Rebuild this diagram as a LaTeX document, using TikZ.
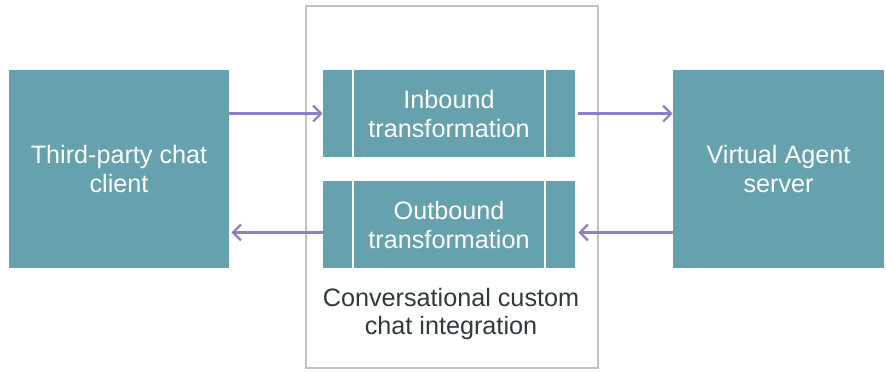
\documentclass[tikz,border=0pt]{standalone}
\usepackage{fontspec}
\setmainfont{Liberation Sans}
\usetikzlibrary{positioning, arrows.meta, calc}
\definecolor{colorteal}{HTML}{66A1AE}
\definecolor{colorarrow}{HTML}{8B7FC6}
\definecolor{colorframe}{HTML}{C2C2C2}
\definecolor{colortext}{HTML}{2E3A3C}

\begin{document}
\begin{tikzpicture}[
    x=0.5pt, y=-0.5pt,
    % Solid teal boxes for the two end points
    endbox/.style={
        rectangle,
        fill=colorteal,
        align=center,
        text=white,
        minimum width=110pt,
        minimum height=99pt,
        inner sep=0pt,
        font=\fontsize{12.6}{14.5}\selectfont
    },
    % Transformation boxes with white side bars
    stagebox/.style={
        endbox,
        minimum width=126pt,
        minimum height=43.5pt,
        path picture={
            \draw[white, line width=0.7pt]
                ([xshift=15pt]path picture bounding box.south west) --
                ([xshift=15pt]path picture bounding box.north west);
            \draw[white, line width=0.7pt]
                ([xshift=-15pt]path picture bounding box.south east) --
                ([xshift=-15pt]path picture bounding box.north east);
        }
    },
    % Light grey frame around the integration
    frame/.style={
        rectangle,
        draw=colorframe,
        line width=1.1pt,
        minimum width=146pt,
        minimum height=181pt,
        inner sep=0pt
    },
    % Open purple arrow
    arrow/.style={
        -{Straight Barb[length=4pt, width=8pt, line width=1.1pt]},
        colorarrow,
        line width=1.2pt
    }
]
\useasboundingbox (0,0) rectangle (886,372);

% ==============================
% Frame and boxes
% ==============================
\node[frame] (integration) at (452,187) {};

\node[endbox] (client) at (119,169) {Third-party chat\\client};
\node[endbox, minimum width=105.5pt] (server) at (778.5,169) {Virtual Agent\\server};

\node[stagebox] (inbound) at (449,113.5) {Inbound\\transformation};
\node[stagebox] (outbound) at (449,224.5) {Outbound\\transformation};

\node[align=center, text=colortext, font=\fontsize{12.6}{14}\selectfont]
    (label) at (451,314) {Conversational custom\\chat integration};

% ==============================
% Arrows
% ==============================
\draw[arrow] (inbound.west -| client.east) -- (inbound.west);
\draw[arrow] ([xshift=1.5pt]inbound.east) -- (inbound.east -| server.west);

\draw[arrow] ([yshift=-4pt]outbound.east -| server.west) -- ([xshift=1.5pt, yshift=-4pt]outbound.east);
\draw[arrow] ([yshift=-4pt]outbound.west) -- ([xshift=1pt, yshift=-4pt]outbound.west -| client.east);

\end{tikzpicture}
\end{document}
